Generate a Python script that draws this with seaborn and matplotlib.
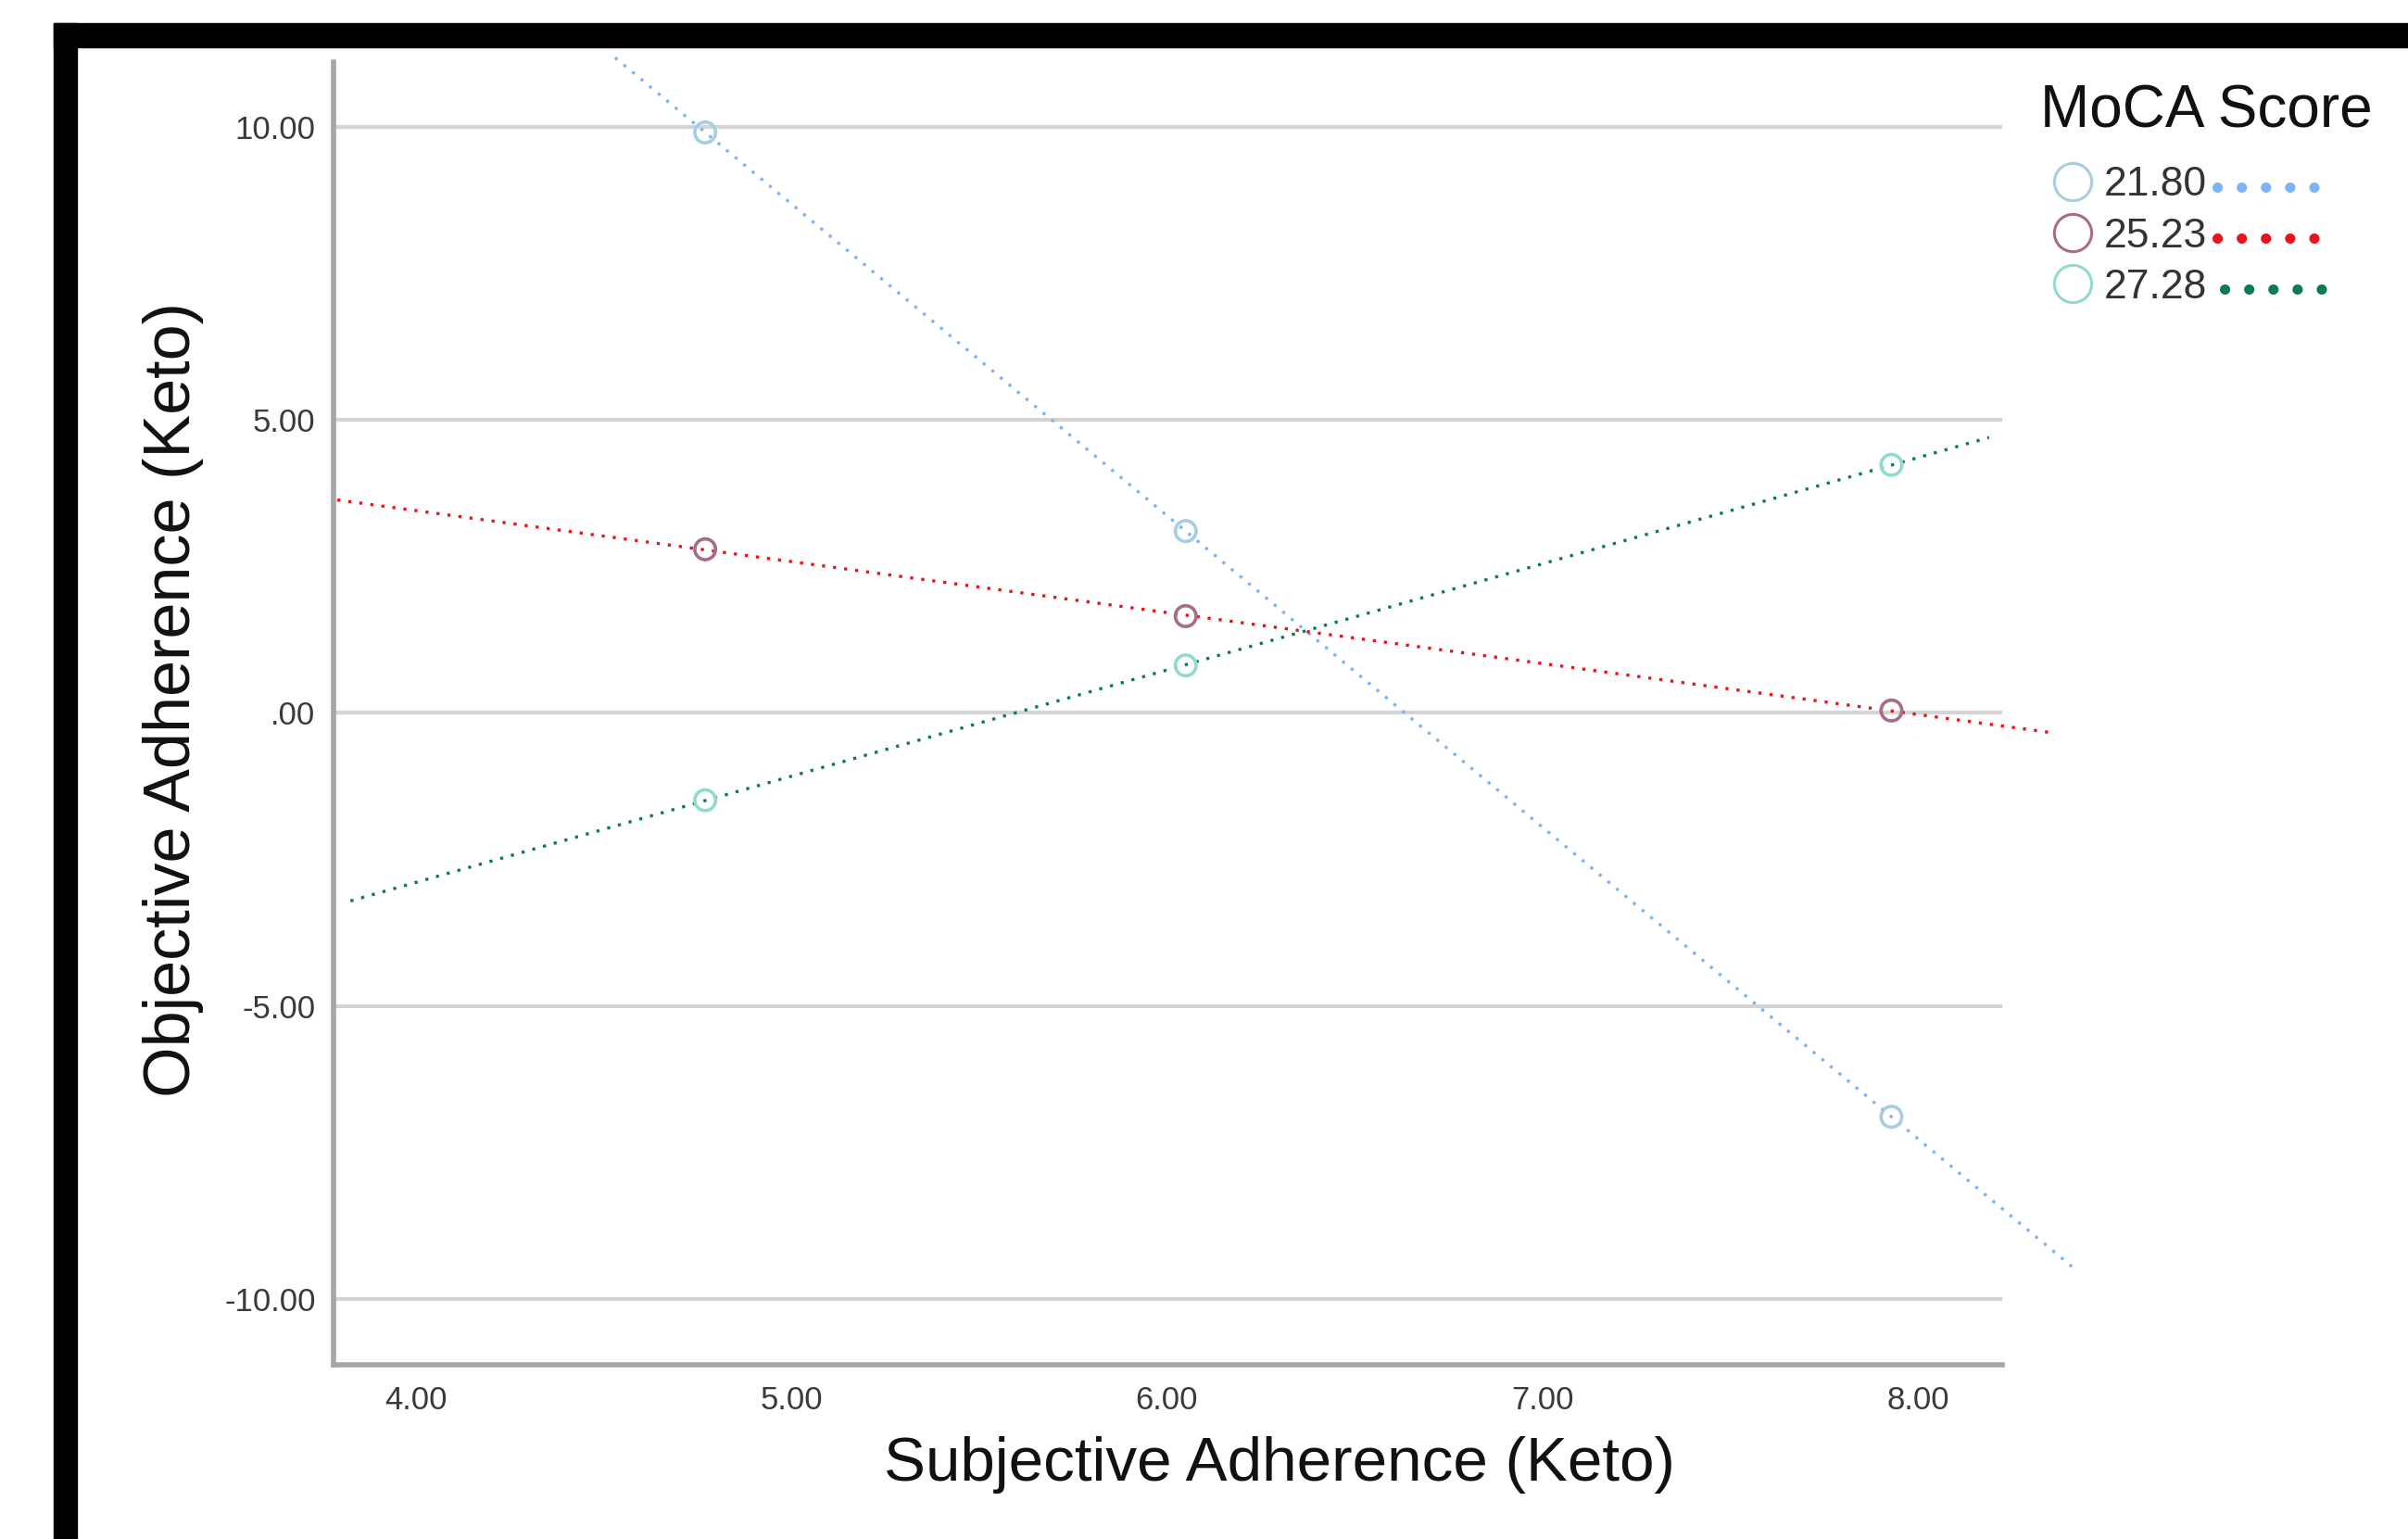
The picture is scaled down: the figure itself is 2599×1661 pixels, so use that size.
import numpy as np
import pandas as pd
import matplotlib
matplotlib.use("Agg")
import matplotlib.pyplot as plt
import seaborn as sns
from matplotlib.lines import Line2D
from matplotlib.patches import Rectangle
from matplotlib import font_manager

# ---------------- data ----------------
moca_levels = ["21.80", "25.23", "27.28"]
subjective_x = [4.77, 6.05, 7.93]
objective_2180 = [9.90, 3.10, -6.89]
objective_2523 = [2.79, 1.65, 0.04]
objective_2728 = [-1.49, 0.81, 4.23]
fit_x_start = [4.53, 3.79, 3.825]
fit_x_end = [8.425, 8.363, 8.19]
x_ticks = [4, 5, 6, 7, 8]
x_tick_labels = ["4.00", "5.00", "6.00", "7.00", "8.00"]
y_ticks = [-10, -5, 0, 5, 10]
y_tick_labels = ["-10.00", "-5.00", ".00", "5.00", "10.00"]

marker_colors = ["#a6cde0", "#a56d86", "#8fdbd0"]
line_colors = ["#7db4f5", "#e8141a", "#0b7a55"]

series = [objective_2180, objective_2523, objective_2728]
pts = pd.DataFrame({
    "x": np.tile(subjective_x, 3),
    "y": np.concatenate(series),
    "moca": np.repeat(moca_levels, 3),
})
fit_rows = []
for lvl, ys, x0, x1 in zip(moca_levels, series, fit_x_start, fit_x_end):
    b, a = np.polyfit(subjective_x, ys, 1)
    for xx in (x0, x1):
        fit_rows.append({"x": xx, "y": a + b * xx, "moca": lvl})
fits = pd.DataFrame(fit_rows)

# ---------------- style ----------------
sns.set_theme(style="white")
plt.rcParams["font.family"] = ["Liberation Sans", "DejaVu Sans"]

narrow_family = None
try:
    font_manager.findfont(font_manager.FontProperties(family="Liberation Sans Narrow"),
                          fallback_to_default=False)
    narrow_family = "Liberation Sans Narrow"
except Exception:
    narrow_family = None

W, H = 2599, 1661
fig = plt.figure(figsize=(W / 100, H / 100), dpi=100, facecolor="white")
ax = fig.add_axes([360 / W, 1 - 1473 / H, (2161 - 360) / W, (1473 - 67) / H])
ax.set_facecolor("white")

sns.lineplot(data=fits, x="x", y="y", hue="moca", palette=line_colors,
             hue_order=moca_levels, legend=False, ax=ax, lw=2.4,
             linestyle=(0, (1, 2.6)), clip_on=False, zorder=3, sort=False,
             estimator=None, units="moca")
sns.scatterplot(data=pts, x="x", y="y", hue="moca", palette=marker_colors,
                hue_order=moca_levels, legend=False, ax=ax, s=260,
                facecolor="none", linewidth=2.6, zorder=4)
coll = ax.collections[-1]
coll.set_edgecolors([marker_colors[moca_levels.index(m)] for m in pts["moca"]])
coll.set_facecolors("none")

ax.set_xlim(3.78, 8.225)
ax.set_ylim(-11.12, 11.1)
ax.set_xticks(x_ticks)
ax.set_xticklabels(x_tick_labels)
ax.set_yticks(y_ticks)
ax.set_yticklabels(y_tick_labels)
ax.tick_params(axis="both", length=0, labelsize=25, labelcolor="#3a3a3a")
ax.tick_params(axis="x", pad=16)
ax.tick_params(axis="y", pad=14)

ax.yaxis.grid(True, color="#d4d4d4", lw=3)
ax.xaxis.grid(False)
ax.set_axisbelow(True)
for s in ["top", "right"]:
    ax.spines[s].set_visible(False)
for s in ["left", "bottom"]:
    ax.spines[s].set_color("#a6a6a6")
    ax.spines[s].set_linewidth(4)

ax.set_xlabel("Subjective Adherence (Keto)", fontsize=48.5, color="#111111", labelpad=16)
ax.set_ylabel("Objective Adherence (Keto)", fontsize=50.5, color="#111111", labelpad=16)
ax.xaxis.label.set_x(0.567)
ax.yaxis.label.set_y(0.511)

# black frame bands (screenshot border)
fig.add_artist(Rectangle((58 / W, 1 - 51 / H), 1 - 58 / W, 26 / H,
                         transform=fig.transFigure, color="black", zorder=10))
fig.add_artist(Rectangle((58 / W, 0), 25 / W, 1 - 25 / H,
                         transform=fig.transFigure, color="black", zorder=10))

# legend
handles = [Line2D([], [], marker="o", ls="none", markersize=29,
                  markerfacecolor="none", markeredgecolor=c, markeredgewidth=2.2)
           for c in marker_colors]
label_fs = 34 if narrow_family else 32
leg = fig.legend(handles, moca_levels, title="MoCA Score", loc="upper left",
                 bbox_to_anchor=(2180 / W, 1 - 68 / H), frameon=False,
                 fontsize=label_fs, title_fontsize=46, handletextpad=0.0,
                 handlelength=1.55, labelspacing=0.32, borderpad=0,
                 alignment="left")
leg._legend_box.sep = 21
leg.get_title().set_color("#111111")
for t in leg.get_texts():
    t.set_color("#333333")
    if narrow_family:
        t.set_family([narrow_family, "Liberation Sans"])

fig.canvas.draw()
inv = fig.transFigure.inverted()
dot_offsets = [0, 0, 8]
for t, c, off in zip(leg.get_texts(), line_colors, dot_offsets):
    bb = t.get_window_extent()
    ymid = (bb.y0 + bb.y1) / 2 - 2
    xs = [bb.x1 + 11 + off, bb.x1 + 117 + off]
    p0 = inv.transform((xs[0], ymid))
    p1 = inv.transform((xs[1], ymid))
    fig.add_artist(Line2D([p0[0], p1[0]], [p0[1], p1[1]], transform=fig.transFigure,
                          color=c, lw=8, linestyle=(0, (0.01, 2.34)),
                          dash_capstyle="round"))

fig.savefig("out.png", dpi=100, facecolor="white")
